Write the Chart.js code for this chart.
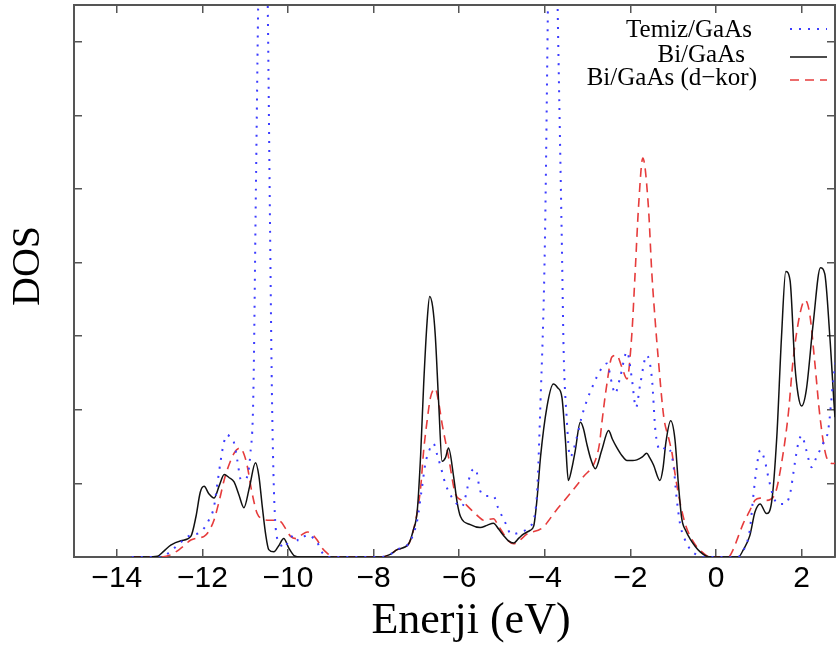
<!DOCTYPE html>
<html><head><meta charset="utf-8">
<script src="https://cdn.jsdelivr.net/npm/chart.js@4.4.1/dist/chart.umd.min.js"></script>
<style>html,body{margin:0;padding:0;background:#fff}</style>
</head><body>
<canvas id="c" width="836" height="650"></canvas>
<script>
const seriesNames = ['Temiz/GaAs', 'Bi/GaAs', 'Bi/GaAs (d\u2212kor)'];

const temizE = [-13.65,-13.0,-12.8,-12.6,-12.4,-12.27,-12.1,-11.95,-11.85,-11.73,-11.65,-11.57,-11.5,-11.42,-11.34,-11.26,-11.18,-11.1,-11.02,-10.95,-10.88,-10.81,-10.75,-10.69,-10.6,-10.48,-10.42,-10.37,-10.29,-10.2,-10.1,-9.98,-9.86,-9.75,-9.62,-9.5,-9.4,-9.32,-9.2,-9.08,-7.84,-7.6,-7.45,-7.18,-7.08,-6.98,-6.88,-6.79,-6.7,-6.6,-6.52,-6.42,-6.32,-6.17,-5.94,-5.84,-5.74,-5.62,-5.51,-5.37,-5.2,-5.1,-4.91,-4.79,-4.6,-4.38,-4.2,-4.1,-4.0,-3.92,-3.82,-3.71,-3.6,-3.56,-3.49,-3.41,-3.25,-3.14,-3.02,-2.86,-2.71,-2.55,-2.43,-2.36,-2.24,-2.08,-1.97,-1.87,-1.77,-1.62,-1.5,-1.41,-1.27,-1.15,-1.0,-0.92,-0.84,-0.75,-0.6,-0.45,-0.3,0.5,0.65,0.79,0.87,0.95,1.03,1.14,1.22,1.34,1.45,1.61,1.73,1.84,1.92,2.0,2.11,2.23,2.35,2.5,2.62,2.74,2.85];
const temizDOS = [0,0,0.05,0.15,0.25,0.3,0.32,0.4,0.5,0.68,1.0,1.32,1.55,1.66,1.62,1.55,1.3,1.05,1.05,1.1,1.4,2.2,5.0,7.8,11,7.8,4.5,2.0,0.41,0.2,0.12,0.22,0.3,0.22,0.28,0.3,0.25,0.2,0.06,0,0,0.04,0.1,0.18,0.3,0.5,0.9,1.27,1.45,1.54,1.4,1.2,0.99,0.81,0.68,0.85,1.13,1.2,0.9,0.83,0.83,0.68,0.45,0.31,0.33,0.4,0.72,2.12,4.2,7.8,12,7.8,4.2,2.8,1.9,1.36,1.63,1.9,2.12,2.35,2.53,2.63,2.35,2.22,2.44,2.79,2.44,2.03,2.35,2.74,2.44,1.68,1.45,1.5,1.27,0.8,0.45,0.27,0.1,0.03,0,0,0.1,0.37,0.82,1.22,1.45,1.31,1.09,0.82,0.72,0.72,0.86,1.27,1.54,1.65,1.45,1.22,1.36,1.54,1.72,2.4,2.9];

const biE = [-13.65,-13.3,-13.05,-12.9,-12.74,-12.5,-12.27,-12.15,-12.05,-11.96,-11.85,-11.73,-11.6,-11.49,-11.38,-11.26,-11.15,-11.03,-10.9,-10.76,-10.68,-10.6,-10.52,-10.45,-10.33,-10.22,-10.1,-9.98,-9.86,-9.7,-7.84,-7.6,-7.45,-7.18,-7.08,-6.98,-6.9,-6.83,-6.75,-6.69,-6.62,-6.56,-6.48,-6.4,-6.32,-6.25,-6.13,-6.05,-5.97,-5.74,-5.51,-5.35,-5.2,-5.08,-4.96,-4.85,-4.73,-4.6,-4.5,-4.35,-4.26,-4.18,-4.1,-3.95,-3.8,-3.7,-3.6,-3.52,-3.45,-3.37,-3.29,-3.17,-3.1,-3.02,-2.92,-2.82,-2.67,-2.51,-2.42,-2.32,-2.2,-2.08,-1.95,-1.85,-1.72,-1.62,-1.55,-1.46,-1.31,-1.24,-1.17,-1.06,-0.96,-0.88,-0.8,-0.7,-0.61,-0.48,-0.37,-0.22,-0.1,0.52,0.64,0.79,0.91,1.03,1.18,1.3,1.42,1.53,1.63,1.73,1.84,1.92,2.0,2.11,2.27,2.44,2.54,2.66,2.78,2.85];
const biDOS = [0,0,0.01,0.08,0.16,0.22,0.28,0.55,0.88,0.96,0.86,0.80,0.98,1.12,1.08,1.02,0.85,0.67,0.95,1.28,1.1,0.68,0.3,0.10,0.07,0.15,0.25,0.12,0.02,0,0,0.04,0.1,0.18,0.35,0.63,1.4,2.35,3.2,3.54,3.4,3.02,2.1,1.3,1.35,1.48,1.09,0.75,0.55,0.44,0.40,0.43,0.46,0.38,0.29,0.22,0.19,0.26,0.31,0.36,0.42,0.8,1.36,2.04,2.35,2.3,2.17,1.6,1.04,1.2,1.44,1.83,1.75,1.54,1.32,1.2,1.45,1.72,1.6,1.49,1.38,1.31,1.31,1.32,1.36,1.41,1.35,1.25,1.04,1.2,1.56,1.85,1.60,1.0,0.52,0.35,0.25,0.14,0.07,0.01,0,0,0.1,0.29,0.61,0.72,0.59,0.75,1.63,2.99,3.88,3.76,2.63,2.2,2.05,2.27,3.17,3.93,3.85,2.99,1.9,1.5];

const dkorE = [-13.65,-13.0,-12.74,-12.5,-12.27,-12.1,-11.96,-11.85,-11.73,-11.6,-11.49,-11.38,-11.26,-11.12,-11.03,-10.95,-10.85,-10.72,-10.6,-10.48,-10.3,-10.17,-10.05,-9.94,-9.8,-9.68,-9.55,-9.42,-9.32,-9.2,-9.08,-8.95,-7.84,-7.6,-7.45,-7.18,-7.0,-6.9,-6.83,-6.75,-6.67,-6.56,-6.48,-6.4,-6.25,-6.09,-5.94,-5.7,-5.55,-5.43,-5.2,-5.08,-4.96,-4.85,-4.73,-4.6,-4.42,-4.05,-3.74,-3.41,-3.1,-2.82,-2.72,-2.67,-2.55,-2.43,-2.32,-2.2,-2.08,-1.97,-1.89,-1.81,-1.71,-1.58,-1.5,-1.42,-1.35,-1.22,-1.1,-1.03,-0.95,-0.84,-0.72,-0.61,-0.45,-0.33,-0.2,-0.1,0.29,0.40,0.52,0.64,0.79,0.91,1.03,1.18,1.38,1.53,1.69,1.8,1.96,2.08,2.19,2.31,2.43,2.58,2.74,2.85];
const dkorDOS = [0,0,0.03,0.12,0.23,0.26,0.28,0.35,0.50,0.78,1.05,1.25,1.41,1.48,1.4,1.23,0.9,0.59,0.52,0.50,0.5,0.48,0.38,0.28,0.25,0.3,0.34,0.3,0.23,0.12,0.05,0,0,0.04,0.1,0.18,0.55,0.95,1.45,1.85,2.17,2.29,2.1,1.81,1.36,0.86,0.77,0.63,0.55,0.5,0.52,0.42,0.31,0.22,0.18,0.22,0.31,0.40,0.63,0.86,1.09,1.31,1.55,1.81,2.35,2.72,2.74,2.58,2.42,3.0,3.86,4.76,5.42,4.76,3.86,3.2,2.7,1.9,1.6,1.42,1.1,0.74,0.45,0.29,0.14,0.07,0.01,0,0,0.1,0.28,0.46,0.63,0.77,0.80,0.77,0.86,1.27,1.95,2.67,3.3,3.49,3.3,2.63,1.9,1.36,1.27,1.3];

const xTickValues = [-14, -12, -10, -8, -6, -4, -2, 0, 2];
const xTickLabels = ['\u221214', '\u221212', '\u221210', '\u22128', '\u22126', '\u22124', '\u22122', '0', '2'];
const yTickValues = [0, 1, 2, 3, 4, 5, 6, 7];

const pts = (xs, ys) => xs.map((x, i) => ({x: x, y: ys[i]}));

const AXIS = '#555555';
const gridInward = {drawOnChartArea: false, drawTicks: true, tickLength: -8, color: AXIS, lineWidth: 1.5};
const borderOpt = {display: true, color: AXIS, width: 2};

const insideLegend = {
  id: 'insideLegend',
  afterDatasetsDraw(chart, args, o) {
    const ctx = chart.ctx;
    ctx.save();
    chart.data.datasets.forEach((ds, i) => {
      ctx.font = o.font;
      ctx.fillStyle = '#000';
      ctx.textAlign = 'right';
      ctx.textBaseline = 'alphabetic';
      ctx.fillText(ds.label, o.textRight[i], o.baseline[i]);
      ctx.strokeStyle = ds.borderColor;
      ctx.lineWidth = ds.borderWidth;
      ctx.setLineDash(ds.borderDash || []);
      ctx.beginPath();
      ctx.moveTo(o.x0, o.sampleY[i]);
      ctx.lineTo(o.x1, o.sampleY[i]);
      ctx.stroke();
    });
    ctx.restore();
  }
};

new Chart(document.getElementById('c'), {
  type: 'line',
  data: {
    datasets: [
      {label: seriesNames[0], data: pts(temizE, temizDOS), borderColor: '#3c3cff', borderWidth: 2, borderDash: [2, 7], pointRadius: 0, fill: false, cubicInterpolationMode: 'monotone'},
      {label: seriesNames[1], data: pts(biE, biDOS), borderColor: '#111111', borderWidth: 1.5, borderDash: [], pointRadius: 0, fill: false, cubicInterpolationMode: 'monotone'},
      {label: seriesNames[2], data: pts(dkorE, dkorDOS), borderColor: '#e63c3c', borderWidth: 1.6, borderDash: [9, 6], pointRadius: 0, fill: false, cubicInterpolationMode: 'monotone'}
    ]
  },
  options: {
    responsive: false,
    animation: false,
    devicePixelRatio: 1,
    layout: {padding: {top: 5, right: 1, left: 0, bottom: 0}},
    plugins: {
      legend: {display: false},
      tooltip: {enabled: false},
      insideLegend: {
        font: '25px "Liberation Serif", "Times New Roman", serif',
        textRight: [752, 745, 757],
        baseline: [37, 62, 85],
        sampleY: [29, 57, 80],
        x0: 790, x1: 827
      }
    },
    scales: {
      x: {
        type: 'linear', position: 'bottom', min: -15, max: 2.78,
        afterBuildTicks: s => { s.ticks = xTickValues.map(v => ({value: v})); },
        afterFit: s => { s.height = 93; },
        ticks: {
          autoSkip: false, maxRotation: 0, padding: 12, color: '#000',
          font: {family: '"Liberation Sans", Arial, sans-serif', size: 30},
          callback: v => xTickLabels[xTickValues.indexOf(v)]
        },
        grid: gridInward, border: borderOpt,
        title: {display: true, text: '\u00a0\u00a0\u00a0Enerji (eV)', color: '#000',
          font: {family: '"Liberation Serif", "Times New Roman", serif', size: 44},
          padding: {top: 0, bottom: 2}}
      },
      x2: {
        type: 'linear', position: 'top', min: -15, max: 2.78,
        afterBuildTicks: s => { s.ticks = xTickValues.map(v => ({value: v})); },
        afterFit: s => { s.height = 0; },
        ticks: {display: false},
        grid: gridInward, border: borderOpt
      },
      y: {
        type: 'linear', position: 'left', min: 0, max: 7.5,
        afterBuildTicks: s => { s.ticks = yTickValues.map(v => ({value: v})); },
        afterFit: s => { s.width = 74; },
        ticks: {display: false},
        grid: gridInward, border: borderOpt,
        title: {display: true, text: '\u00a0\u00a0\u00a0DOS', color: '#000',
          font: {family: '"Liberation Serif", "Times New Roman", serif', size: 40},
          padding: {top: 4, bottom: 0}}
      },
      y2: {
        type: 'linear', position: 'right', min: 0, max: 7.5,
        afterBuildTicks: s => { s.ticks = yTickValues.map(v => ({value: v})); },
        afterFit: s => { s.width = 0; },
        ticks: {display: false},
        grid: gridInward, border: borderOpt
      }
    }
  },
  plugins: [insideLegend]
});
</script>
</body></html>
